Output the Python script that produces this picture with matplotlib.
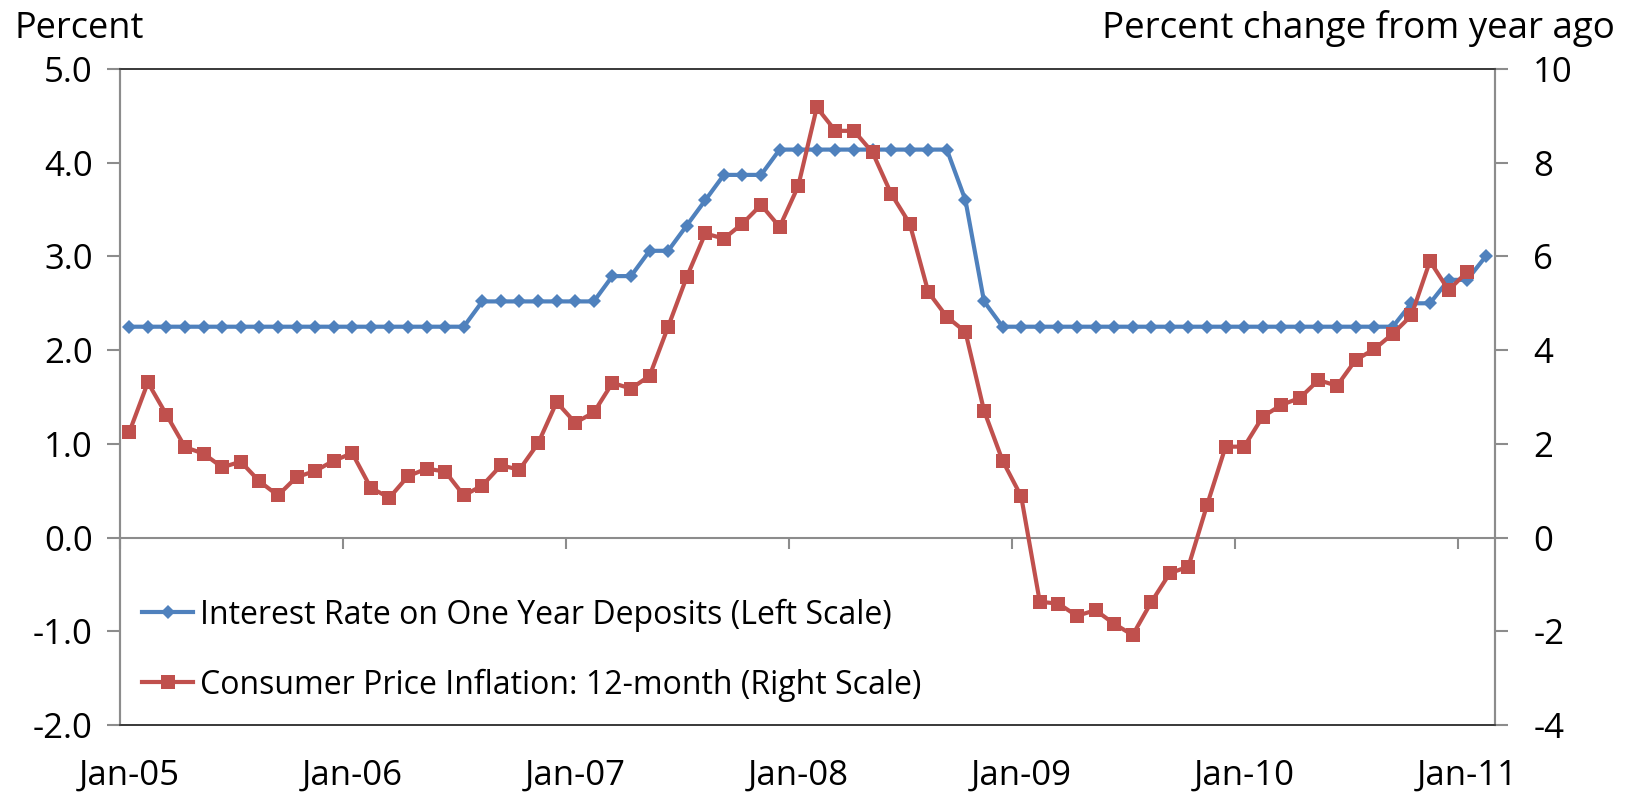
import matplotlib
matplotlib.use("Agg")
import matplotlib.pyplot as plt
import numpy as np

plt.rcParams['font.family'] = ['Open Sans', 'DejaVu Sans']
plt.rcParams['axes.unicode_minus'] = False

# monthly, Jan-05 .. Feb-11
deposit_rate = ([2.25] * 19 + [2.52] * 7 + [2.79] * 2 + [3.06] * 2 + [3.33, 3.60]
                + [3.87] * 3 + [4.14] * 10 + [3.60, 2.52] + [2.25] * 22
                + [2.50] * 2 + [2.75] * 2 + [3.00])

# Jan-05 .. Jan-11
cpi = [2.25, 3.31, 2.62, 1.93, 1.79, 1.50, 1.62, 1.20, 0.90, 1.29, 1.42, 1.64,
       1.80, 1.06, 0.85, 1.31, 1.47, 1.41, 0.90, 1.11, 1.54, 1.45, 2.01, 2.89,
       2.45, 2.67, 3.30, 3.18, 3.45, 4.50, 5.56, 6.49, 6.38, 6.70, 7.10, 6.63,
       7.50, 9.18, 8.68, 8.68, 8.22, 7.34, 6.70, 5.24, 4.71, 4.39, 2.71, 1.64,
       0.88, -1.37, -1.41, -1.67, -1.55, -1.84, -2.08, -1.38, -0.76, -0.62, 0.69, 1.94,
       1.94, 2.58, 2.83, 2.98, 3.36, 3.24, 3.79, 4.02, 4.35, 4.74, 5.90, 5.28,
       5.67]

year_labels = ['Jan-05', 'Jan-06', 'Jan-07', 'Jan-08', 'Jan-09', 'Jan-10', 'Jan-11']

blue = '#4F81BD'
red = '#C0504D'
grey = '#8C8C8C'
dark = '#3C3C3C'

fig = plt.figure(figsize=(16.39, 7.99), dpi=100)
ax = fig.add_axes([120 / 1639, 1 - 725 / 799, (1495 - 120) / 1639, (725 - 69) / 799])
ax2 = ax.twinx()

x_rate = np.arange(len(deposit_rate))
x_cpi = np.arange(len(cpi))

l1, = ax.plot(x_rate, deposit_rate, color=blue, lw=3, marker='D', ms=7,
              markeredgewidth=0, label='Interest Rate on One Year Deposits (Left Scale)')
l2, = ax2.plot(x_cpi, cpi, color=red, lw=3, marker='s', ms=9.5,
               markeredgewidth=0, label='Consumer Price Inflation: 12-month (Right Scale)')

ax.set_xlim(-0.5, len(deposit_rate) - 0.5)
ax.set_ylim(-2, 5)
ax2.set_ylim(-4, 10)

ax.set_yticks(np.arange(-2, 5.1, 1))
ax.set_yticklabels([f'{v:.1f}' for v in np.arange(-2, 5.1, 1)])
ax2.set_yticks(np.arange(-4, 10.1, 2))
ax2.set_yticklabels([f'{int(v)}' for v in np.arange(-4, 10.1, 2)])

ax.tick_params(axis='y', direction='out', length=9.5, width=1.5, color=grey,
               labelsize=25, pad=10)
ax2.tick_params(axis='y', direction='out', length=9.5, width=1.5, color=grey,
                labelsize=25, pad=18)

# category labels at the bottom border, tick marks on the zero line
ax.set_xticks(np.arange(0, len(deposit_rate), 12))
ax.set_xticklabels(year_labels)
ax.tick_params(axis='x', length=0, labelsize=25, pad=24)

zero_axis = ax.secondary_xaxis(2 / 7)
zero_axis.set_xticks(np.arange(-0.5, len(deposit_rate), 12))
zero_axis.tick_params(axis='x', direction='out', length=8, width=1.5, color=grey,
                      labelbottom=False)
zero_axis.spines['bottom'].set_color(grey)
zero_axis.spines['bottom'].set_linewidth(1.5)

for a in (ax, ax2):
    a.spines['left'].set_color(grey)
    a.spines['right'].set_color(grey)
    a.spines['left'].set_linewidth(1.5)
    a.spines['right'].set_linewidth(1.5)
    a.spines['top'].set_color(dark)
    a.spines['bottom'].set_color(dark)
    a.spines['top'].set_linewidth(1.3)
    a.spines['bottom'].set_linewidth(1.3)

fig.text(15 / 1639, 1 - 38 / 799, 'Percent', fontsize=26, va='baseline', ha='left')
fig.text(1615 / 1639, 1 - 38 / 799, 'Percent change from year ago', fontsize=26.5,
         va='baseline', ha='right')

fig.legend(handles=[l1, l2], loc='center left', bbox_to_anchor=(142 / 1639, 1 - 650 / 799),
           frameon=False, fontsize=23, handlelength=1.6, handletextpad=0.2,
           borderpad=0, borderaxespad=0, labelspacing=1.15)

fig.savefig('out.png', dpi=100)
